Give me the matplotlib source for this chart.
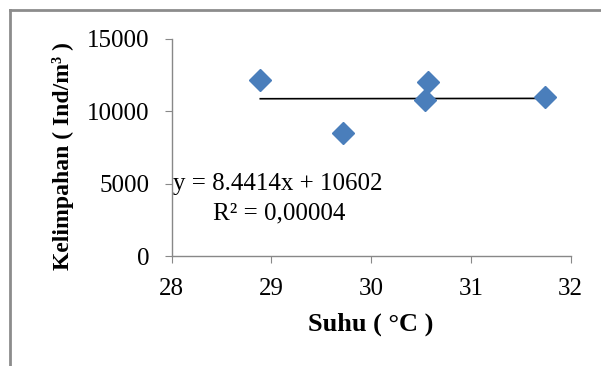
import matplotlib
matplotlib.use("Agg")
import matplotlib.pyplot as plt
from matplotlib.lines import Line2D

# data
suhu = [28.89, 29.72, 30.57, 30.54, 31.74]
kelimpahan = [12140, 8500, 12020, 10760, 10940]
slope, intercept = 8.4414, 10602
xticks = [28, 29, 30, 31, 32]
yticks = [0, 5000, 10000, 15000]

plt.rcParams['font.family'] = ['Liberation Serif', 'DejaVu Serif']

fig = plt.figure(figsize=(6.01, 3.66), dpi=100)
ax = fig.add_axes([0.2854, 0.3005, 0.6639, 0.5943])

ax.plot(suhu, kelimpahan, 'D', color='#4A7EBB', markersize=11, zorder=3)

# garis tren linear
x0, x1 = min(suhu), max(suhu)
ax.plot([x0, x1], [slope * x0 + intercept, slope * x1 + intercept],
        color='black', linewidth=1.2, zorder=2)

ax.set_xlim(28, 32)
ax.set_ylim(0, 15000)
ax.set_xticks(xticks)
ax.set_yticks(yticks)
ax.tick_params(labelsize=18, length=5, color='#888888', direction='out', pad=11)

for side in ['top', 'right']:
    ax.spines[side].set_visible(False)
for side in ['left', 'bottom']:
    ax.spines[side].set_color('#888888')
    ax.spines[side].set_linewidth(1)

ax.set_xlabel('Suhu ( °C )', fontsize=19, fontweight='bold', labelpad=9)
ax.set_ylabel('Kelimpahan ( Ind/m³ )', fontsize=17, fontweight='bold')
ax.yaxis.set_label_coords(-0.245, 0.46)

ax.text(28.01, 5000, 'y = 8.4414x + 10602', fontsize=18, va='center', ha='left')
ax.text(28.42, 2950, 'R² = 0,00004', fontsize=18, va='center', ha='left')

# bingkai luar
fig.add_artist(Line2D([0.0166, 1.0], [0.9727, 0.9727], color='#8c8c8c', linewidth=2))
fig.add_artist(Line2D([0.0166, 0.0166], [0.0, 0.9727], color='#8c8c8c', linewidth=2))

fig.savefig('out.png', dpi=100)
